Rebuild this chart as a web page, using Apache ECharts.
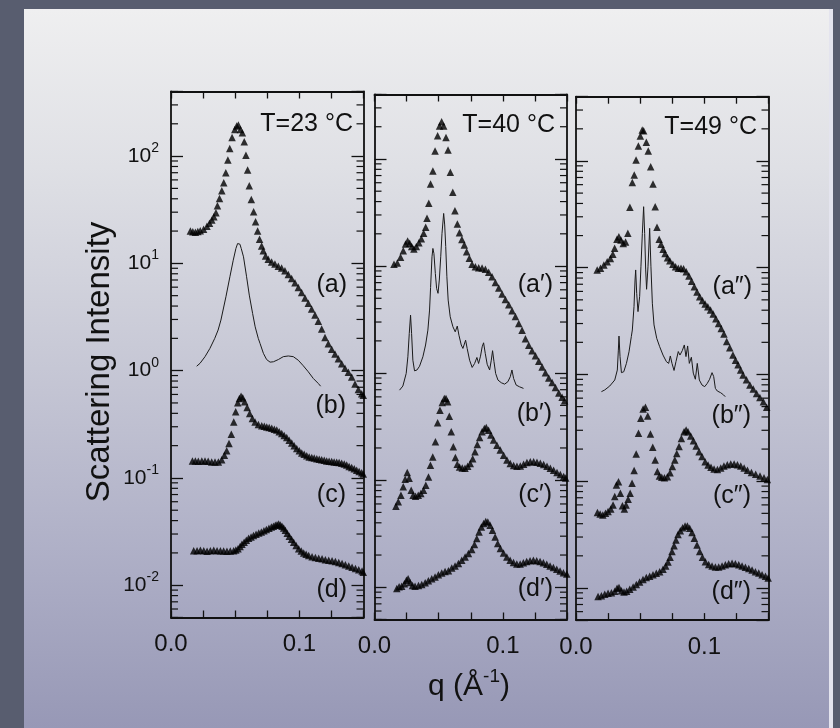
<!DOCTYPE html>
<html><head><meta charset="utf-8">
<script src="https://cdn.jsdelivr.net/npm/echarts@6/dist/echarts.min.js"></script>
<style>
html,body{margin:0;padding:0;width:840px;height:728px;overflow:hidden;background:#585d6f;}
#panel{position:absolute;left:24px;top:9px;width:805px;height:719px;
background:linear-gradient(to bottom,#efeff0 0%,#dfe0e5 22%,#c6c7d5 50%,#afb0c7 75%,#9798b6 100%);
border-right:4px solid #e4e4ee;}
#chart{position:absolute;left:0;top:0;width:840px;height:728px;}
</style></head><body>
<div id="panel"></div><div id="chart"></div>
<script>
// ---------------- data: [q (1/Å), intensity] ----------------
const A23 = [[0.0151,20.0],[0.0170,19.7],[0.0190,19.5],[0.0209,19.8],[0.0228,20.1],[0.0254,20.8],[0.0280,22.2],[0.0300,23.6],[0.0318,25.3],[0.0334,27.2],[0.0350,29.6],[0.0362,34.4],[0.0378,40.3],[0.0396,47.5],[0.0411,56.4],[0.0427,70.0],[0.0443,91.8],[0.0458,118],[0.0476,149],[0.0497,177],[0.0512,191],[0.0525,195],[0.0541,177],[0.0556,165],[0.0571,136],[0.0584,102],[0.0597,74.0],[0.0610,52.8],[0.0626,39.4],[0.0644,30.3],[0.0659,24.4],[0.0675,20.0],[0.0690,16.8],[0.0706,14.5],[0.0719,13.1],[0.0737,11.7],[0.0758,10.9],[0.0784,10.3],[0.0810,9.84],[0.0836,9.42],[0.0862,9.04],[0.0888,8.53],[0.0914,7.89],[0.0940,7.23],[0.0966,6.59],[0.0992,5.96],[0.1018,5.35],[0.1044,4.76],[0.1070,4.24],[0.1096,3.76],[0.1122,3.31],[0.1148,2.88],[0.1174,2.45],[0.1200,2.04],[0.1226,1.78],[0.1252,1.58],[0.1278,1.43],[0.1304,1.29],[0.1330,1.16],[0.1356,1.05],[0.1382,0.966],[0.1408,0.871],[0.1434,0.750],[0.1460,0.668],[0.1486,0.610],[0.1498,0.589]];
const B23 = [[0.0200,1.10],[0.0226,1.17],[0.0265,1.35],[0.0303,1.61],[0.0341,2.00],[0.0367,2.39],[0.0389,2.96],[0.0428,4.88],[0.0459,7.50],[0.0485,10.7],[0.0506,13.8],[0.0519,15.3],[0.0526,15.8],[0.0537,15.1],[0.0547,13.8],[0.0565,11.5],[0.0589,7.50],[0.0610,5.06],[0.0636,3.41],[0.0656,2.56],[0.0680,2.00],[0.0694,1.79],[0.0720,1.45],[0.0745,1.27],[0.0772,1.20],[0.0798,1.21],[0.0837,1.27],[0.0875,1.35],[0.0914,1.37],[0.0953,1.35],[0.0992,1.25],[0.1031,1.11],[0.1070,0.975],[0.1109,0.845],[0.1148,0.759],[0.1166,0.716]];
const C23 = [[0.0167,0.144],[0.0190,0.144],[0.0213,0.143],[0.0240,0.144],[0.0265,0.144],[0.0290,0.143],[0.0317,0.141],[0.0343,0.141],[0.0369,0.141],[0.0395,0.148],[0.0416,0.163],[0.0434,0.179],[0.0452,0.209],[0.0470,0.255],[0.0489,0.333],[0.0504,0.413],[0.0520,0.501],[0.0533,0.550],[0.0546,0.578],[0.0559,0.558],[0.0574,0.512],[0.0593,0.454],[0.0613,0.399],[0.0634,0.358],[0.0655,0.333],[0.0681,0.315],[0.0707,0.306],[0.0727,0.303],[0.0746,0.299],[0.0765,0.295],[0.0785,0.291],[0.0805,0.285],[0.0824,0.279],[0.0843,0.269],[0.0863,0.259],[0.0882,0.249],[0.0902,0.238],[0.0921,0.225],[0.0941,0.212],[0.0960,0.200],[0.0980,0.188],[0.1000,0.179],[0.1019,0.171],[0.1038,0.166],[0.1058,0.161],[0.1077,0.157],[0.1097,0.155],[0.1116,0.153],[0.1136,0.151],[0.1155,0.149],[0.1174,0.148],[0.1194,0.146],[0.1213,0.144],[0.1232,0.143],[0.1252,0.142],[0.1271,0.141],[0.1291,0.140],[0.1310,0.139],[0.1330,0.137],[0.1350,0.135],[0.1369,0.132],[0.1388,0.128],[0.1408,0.125],[0.1428,0.122],[0.1447,0.118],[0.1466,0.115],[0.1486,0.112],[0.1498,0.109]];
const D23 = [[0.0177,0.0209],[0.0203,0.0210],[0.0229,0.0212],[0.0255,0.0209],[0.0281,0.0207],[0.0307,0.0210],[0.0333,0.0212],[0.0359,0.0210],[0.0385,0.0209],[0.0410,0.0208],[0.0436,0.0207],[0.0462,0.0208],[0.0488,0.0209],[0.0505,0.0213],[0.0522,0.0219],[0.0538,0.0229],[0.0553,0.0241],[0.0570,0.0252],[0.0587,0.0263],[0.0605,0.0274],[0.0624,0.0282],[0.0643,0.0291],[0.0663,0.0299],[0.0684,0.0307],[0.0704,0.0314],[0.0724,0.0322],[0.0743,0.0330],[0.0763,0.0339],[0.0782,0.0348],[0.0798,0.0355],[0.0813,0.0362],[0.0826,0.0367],[0.0839,0.0371],[0.0852,0.0365],[0.0865,0.0355],[0.0878,0.0341],[0.0891,0.0326],[0.0906,0.0305],[0.0922,0.0286],[0.0939,0.0268],[0.0956,0.0252],[0.0975,0.0234],[0.0995,0.0219],[0.1015,0.0208],[0.1034,0.0200],[0.1053,0.0194],[0.1073,0.0189],[0.1099,0.0184],[0.1125,0.0181],[0.1151,0.0178],[0.1177,0.0176],[0.1203,0.0173],[0.1229,0.0171],[0.1255,0.0169],[0.1281,0.0166],[0.1307,0.0163],[0.1333,0.0159],[0.1359,0.0155],[0.1385,0.0151],[0.1411,0.0147],[0.1437,0.0143],[0.1463,0.0139],[0.1489,0.0136],[0.1498,0.0132]];

const A40 = [[0.0152,10.4],[0.0178,10.7],[0.0203,12.1],[0.0224,13.9],[0.0242,16.1],[0.0258,17.1],[0.0274,16.3],[0.0290,15.2],[0.0307,14.4],[0.0326,15.2],[0.0346,16.5],[0.0365,18.0],[0.0383,20.2],[0.0399,23.0],[0.0409,27.9],[0.0423,38.5],[0.0437,58.3],[0.0455,77.3],[0.0472,119],[0.0492,165],[0.0507,203],[0.0523,223],[0.0539,203],[0.0557,159],[0.0573,121],[0.0591,75.0],[0.0610,48.8],[0.0627,32.9],[0.0646,24.7],[0.0662,20.5],[0.0681,17.7],[0.0700,15.7],[0.0718,13.6],[0.0739,11.8],[0.0760,10.4],[0.0786,9.86],[0.0812,9.64],[0.0838,9.57],[0.0864,9.31],[0.0890,8.73],[0.0916,7.94],[0.0942,7.03],[0.0968,6.22],[0.0994,5.47],[0.1020,4.88],[0.1046,4.36],[0.1072,3.83],[0.1098,3.37],[0.1124,2.91],[0.1150,2.51],[0.1176,2.09],[0.1202,1.82],[0.1228,1.62],[0.1254,1.45],[0.1280,1.29],[0.1306,1.14],[0.1332,1.01],[0.1358,0.902],[0.1384,0.818],[0.1410,0.733],[0.1436,0.653],[0.1462,0.596],[0.1481,0.551]];
const B40 = [[0.0195,0.693],[0.0221,0.757],[0.0247,0.993],[0.0260,1.42],[0.0271,2.35],[0.0281,3.48],[0.0289,2.35],[0.0299,1.32],[0.0312,1.05],[0.0331,1.07],[0.0351,1.16],[0.0377,1.42],[0.0398,1.83],[0.0416,2.52],[0.0429,3.88],[0.0437,6.31],[0.0448,12.2],[0.0455,14.6],[0.0463,13.1],[0.0474,8.53],[0.0484,6.18],[0.0495,5.56],[0.0505,7.40],[0.0516,12.2],[0.0526,20.2],[0.0539,31.0],[0.0547,24.2],[0.0555,15.2],[0.0564,7.94],[0.0574,4.81],[0.0590,3.36],[0.0611,2.71],[0.0629,2.43],[0.0645,2.75],[0.0658,2.26],[0.0676,1.83],[0.0689,1.70],[0.0710,2.03],[0.0722,1.70],[0.0741,1.32],[0.0761,1.13],[0.0780,1.23],[0.0798,1.40],[0.0811,1.23],[0.0826,1.44],[0.0839,1.76],[0.0850,1.92],[0.0863,1.53],[0.0878,1.21],[0.0897,1.07],[0.0910,1.32],[0.0920,1.62],[0.0931,1.28],[0.0944,0.993],[0.0962,0.861],[0.0988,0.813],[0.1014,0.789],[0.1039,0.830],[0.1058,0.925],[0.1071,1.07],[0.1084,0.891],[0.1104,0.773],[0.1130,0.745],[0.1161,0.720]];
const C40 = [[0.0167,0.0571],[0.0185,0.0628],[0.0206,0.0724],[0.0224,0.0867],[0.0239,0.102],[0.0255,0.118],[0.0270,0.104],[0.0286,0.0807],[0.0301,0.0724],[0.0320,0.0708],[0.0341,0.0724],[0.0361,0.0750],[0.0382,0.0807],[0.0400,0.0897],[0.0421,0.107],[0.0436,0.138],[0.0454,0.165],[0.0475,0.228],[0.0492,0.344],[0.0510,0.451],[0.0528,0.532],[0.0544,0.579],[0.0557,0.579],[0.0570,0.540],[0.0583,0.396],[0.0598,0.283],[0.0614,0.205],[0.0630,0.163],[0.0645,0.141],[0.0663,0.133],[0.0684,0.130],[0.0705,0.129],[0.0726,0.135],[0.0746,0.143],[0.0765,0.159],[0.0783,0.184],[0.0801,0.215],[0.0819,0.251],[0.0838,0.283],[0.0856,0.304],[0.0871,0.310],[0.0889,0.293],[0.0907,0.264],[0.0928,0.237],[0.0954,0.212],[0.0980,0.191],[0.1006,0.171],[0.1032,0.154],[0.1058,0.143],[0.1084,0.137],[0.1110,0.135],[0.1136,0.136],[0.1162,0.141],[0.1188,0.146],[0.1214,0.149],[0.1240,0.149],[0.1266,0.147],[0.1292,0.144],[0.1318,0.140],[0.1344,0.135],[0.1370,0.129],[0.1396,0.124],[0.1422,0.118],[0.1448,0.113],[0.1474,0.108],[0.1490,0.105]];
const D40 = [[0.0174,0.00973],[0.0192,0.0101],[0.0212,0.0102],[0.0233,0.0108],[0.0249,0.0116],[0.0262,0.0120],[0.0277,0.0111],[0.0296,0.0104],[0.0316,0.0102],[0.0343,0.0104],[0.0368,0.0106],[0.0395,0.0110],[0.0420,0.0115],[0.0446,0.0120],[0.0472,0.0125],[0.0498,0.0131],[0.0524,0.0136],[0.0550,0.0140],[0.0576,0.0143],[0.0602,0.0151],[0.0628,0.0158],[0.0654,0.0167],[0.0680,0.0179],[0.0706,0.0192],[0.0732,0.0207],[0.0758,0.0225],[0.0779,0.0251],[0.0797,0.0285],[0.0815,0.0329],[0.0833,0.0366],[0.0851,0.0394],[0.0867,0.0411],[0.0883,0.0408],[0.0901,0.0379],[0.0919,0.0341],[0.0940,0.0295],[0.0960,0.0256],[0.0981,0.0230],[0.1005,0.0209],[0.1031,0.0192],[0.1057,0.0179],[0.1083,0.0170],[0.1109,0.0165],[0.1135,0.0165],[0.1160,0.0169],[0.1186,0.0174],[0.1212,0.0177],[0.1238,0.0179],[0.1264,0.0177],[0.1290,0.0174],[0.1316,0.0169],[0.1342,0.0164],[0.1368,0.0158],[0.1394,0.0153],[0.1420,0.0147],[0.1446,0.0142],[0.1472,0.0137],[0.1498,0.0133]];

const A49 = [[0.0165,9.53],[0.0191,9.89],[0.0217,10.6],[0.0243,11.4],[0.0268,12.2],[0.0287,13.4],[0.0301,15.2],[0.0319,18.5],[0.0334,19.5],[0.0350,18.2],[0.0368,16.9],[0.0386,17.4],[0.0404,21.0],[0.0420,36.8],[0.0439,62.7],[0.0454,74.0],[0.0468,102],[0.0486,138],[0.0501,171],[0.0516,195],[0.0527,192],[0.0548,150],[0.0563,124],[0.0582,88.5],[0.0600,61.0],[0.0617,37.3],[0.0631,23.9],[0.0648,18.5],[0.0663,16.6],[0.0679,14.9],[0.0694,13.6],[0.0713,12.4],[0.0731,11.6],[0.0755,10.8],[0.0776,10.2],[0.0797,9.89],[0.0818,9.89],[0.0838,9.79],[0.0859,9.18],[0.0880,8.38],[0.0901,7.46],[0.0922,6.65],[0.0943,5.93],[0.0964,5.36],[0.0985,4.92],[0.1006,4.57],[0.1027,4.32],[0.1048,4.02],[0.1069,3.69],[0.1090,3.33],[0.1111,3.01],[0.1132,2.69],[0.1153,2.40],[0.1174,2.04],[0.1198,1.78],[0.1223,1.52],[0.1243,1.36],[0.1263,1.23],[0.1283,1.10],[0.1302,0.991],[0.1328,0.891],[0.1355,0.798],[0.1381,0.729],[0.1407,0.665],[0.1433,0.610],[0.1460,0.556],[0.1486,0.492]];
const B49 = [[0.0198,0.690],[0.0224,0.716],[0.0263,0.780],[0.0302,0.887],[0.0322,1.10],[0.0330,1.69],[0.0335,2.29],[0.0343,1.47],[0.0354,1.04],[0.0372,1.06],[0.0393,1.27],[0.0413,1.63],[0.0431,2.26],[0.0439,2.61],[0.0452,4.32],[0.0460,7.67],[0.0465,9.53],[0.0473,5.75],[0.0483,3.88],[0.0496,5.36],[0.0506,10.2],[0.0517,21.0],[0.0527,37.3],[0.0535,21.0],[0.0543,9.53],[0.0550,6.28],[0.0561,10.2],[0.0574,23.4],[0.0584,10.2],[0.0595,4.65],[0.0608,2.91],[0.0629,2.18],[0.0652,1.82],[0.0678,1.52],[0.0704,1.32],[0.0722,1.27],[0.0735,1.49],[0.0748,1.27],[0.0764,1.09],[0.0779,1.32],[0.0797,1.64],[0.0810,1.52],[0.0828,1.67],[0.0844,1.89],[0.0857,1.47],[0.0870,1.85],[0.0883,1.27],[0.0899,1.45],[0.0914,1.03],[0.0930,0.902],[0.0945,1.27],[0.0961,0.887],[0.0982,0.796],[0.1003,0.769],[0.1023,0.826],[0.1041,0.902],[0.1060,1.04],[0.1073,0.955],[0.1086,0.741],[0.1101,0.700],[0.1114,0.726],[0.1127,0.675],[0.1140,0.690],[0.1150,0.643],[0.1163,0.619]];
const C49 = [[0.0167,0.0508],[0.0188,0.0493],[0.0209,0.0483],[0.0230,0.0500],[0.0250,0.0519],[0.0271,0.0550],[0.0289,0.0600],[0.0302,0.0718],[0.0315,0.0923],[0.0331,0.0991],[0.0346,0.0771],[0.0362,0.0590],[0.0377,0.0550],[0.0390,0.0600],[0.0406,0.0678],[0.0422,0.0771],[0.0437,0.0957],[0.0453,0.126],[0.0469,0.180],[0.0487,0.281],[0.0505,0.388],[0.0523,0.475],[0.0541,0.493],[0.0559,0.408],[0.0580,0.277],[0.0598,0.208],[0.0617,0.158],[0.0634,0.123],[0.0650,0.112],[0.0668,0.109],[0.0689,0.108],[0.0712,0.110],[0.0733,0.120],[0.0751,0.137],[0.0770,0.158],[0.0785,0.182],[0.0803,0.211],[0.0821,0.251],[0.0842,0.291],[0.0858,0.302],[0.0873,0.291],[0.0894,0.265],[0.0915,0.240],[0.0936,0.214],[0.0959,0.189],[0.0982,0.170],[0.1006,0.152],[0.1029,0.142],[0.1052,0.135],[0.1076,0.130],[0.1102,0.129],[0.1128,0.133],[0.1153,0.139],[0.1179,0.143],[0.1206,0.145],[0.1232,0.145],[0.1258,0.143],[0.1284,0.139],[0.1310,0.133],[0.1336,0.127],[0.1367,0.121],[0.1400,0.116],[0.1434,0.112],[0.1465,0.108],[0.1491,0.104]];
const D49 = [[0.0172,0.00830],[0.0198,0.00847],[0.0224,0.00873],[0.0250,0.00891],[0.0276,0.00904],[0.0302,0.00931],[0.0320,0.00993],[0.0335,0.0101],[0.0354,0.00944],[0.0374,0.00918],[0.0395,0.00931],[0.0419,0.00973],[0.0445,0.0102],[0.0470,0.0108],[0.0496,0.0114],[0.0522,0.0120],[0.0548,0.0125],[0.0574,0.0129],[0.0600,0.0133],[0.0626,0.0137],[0.0652,0.0142],[0.0678,0.0150],[0.0699,0.0161],[0.0717,0.0175],[0.0733,0.0194],[0.0748,0.0219],[0.0764,0.0249],[0.0779,0.0281],[0.0795,0.0316],[0.0813,0.0344],[0.0831,0.0367],[0.0850,0.0381],[0.0868,0.0381],[0.0886,0.0362],[0.0904,0.0330],[0.0922,0.0292],[0.0943,0.0252],[0.0964,0.0219],[0.0985,0.0194],[0.1008,0.0176],[0.1034,0.0166],[0.1060,0.0161],[0.1086,0.0157],[0.1112,0.0157],[0.1138,0.0161],[0.1164,0.0165],[0.1190,0.0169],[0.1216,0.0170],[0.1242,0.0169],[0.1268,0.0165],[0.1294,0.0161],[0.1320,0.0156],[0.1346,0.0152],[0.1372,0.0147],[0.1398,0.0142],[0.1424,0.0138],[0.1450,0.0133],[0.1476,0.0129],[0.1497,0.0124]];

// ---------------- axes / ticks ----------------
const X_MIN = 0, X_MAX = 0.15, X_STEP = 0.025;
const X_LABELED = [0, 0.1];
const Y_MIN = 0.005, Y_MAX = 400;
const Y_LABELED_EXP = [-2, -1, 0, 1, 2];
const MINOR_MULT = [2, 3, 4, 5, 6, 7, 8, 9];
const MINOR_DECADES = [0.001, 0.01, 0.1, 1, 10, 100];
const MINOR_TICKS = [];
MINOR_DECADES.forEach(d => MINOR_MULT.forEach(m => { const v = +(m * d).toPrecision(3); if (v >= Y_MIN && v <= Y_MAX) MINOR_TICKS.push(v); }));

const TEMPS = ['T=23 °C', 'T=40 °C', 'T=49 °C'];
const CURVE_LABELS = [['(a)','(b)','(c)','(d)'], ['(a\u2032)','(b\u2032)','(c\u2032)','(d\u2032)'], ['(a\u2033)','(b\u2033)','(c\u2033)','(d\u2033)']];
const PANELS = [
  {tri: [A23, C23, D23], line: B23},
  {tri: [A40, C40, D40], line: B40},
  {tri: [A49, C49, D49], line: B49}
];

// ---------------- layout (pixels) ----------------
const GRIDS = [
  {left: 171, top: 91.5, width: 192.5, height: 526},
  {left: 374.5, top: 94.5, width: 192.5, height: 525},
  {left: 576, top: 96.7, width: 192.5, height: 523.4}
];
const TEMP_POS = [[353, 124.5], [555, 125.5], [757, 127]];
const LABEL_POS = [
  [[347, 285], [346, 406.5], [346, 495], [347, 590]],
  [[553, 285.5], [552, 414], [552, 495], [553, 589]],
  [[752, 286.7], [751, 416], [751, 496], [751, 592]]
];
const FONT = '"Liberation Sans", Arial, Helvetica, sans-serif';
const INK = '#111';
const LINE_W = 1.8;
const MINOR_LEN = 7;

const chart = echarts.init(document.getElementById('chart'), null, {renderer: 'canvas'});

function xLabel(v) {
  for (const t of X_LABELED) if (Math.abs(v - t) < 1e-9) return t.toFixed(1);
  return '';
}
function yLabel(v) {
  const l = Math.log10(v), e = Math.round(l);
  if (Math.abs(l - e) > 1e-6 || Y_LABELED_EXP.indexOf(e) < 0) return '';
  return '{b|10}{s|' + e + '}';
}

const xAxis = [], yAxis = [], series = [], grid = [];
GRIDS.forEach((g, gi) => {
  grid.push(Object.assign({containLabel: false}, g));
  ['bottom', 'top'].forEach(pos => {
    xAxis.push({
      gridIndex: gi, type: 'value', position: pos, min: X_MIN, max: X_MAX, interval: X_STEP,
      axisLine: {show: true, onZero: false, lineStyle: {color: INK, width: LINE_W}},
      axisTick: {show: true, inside: true, length: 7, lineStyle: {color: INK, width: 1.3}},
      axisLabel: {show: pos === 'bottom', formatter: xLabel, margin: 15, fontSize: 24, fontFamily: FONT, color: INK,
                  showMinLabel: true, showMaxLabel: true, hideOverlap: false},
      splitLine: {show: false}
    });
  });
  ['left', 'right'].forEach(pos => {
    yAxis.push({
      gridIndex: gi, type: 'log', logBase: 10, position: pos, min: Y_MIN, max: Y_MAX,
      axisLine: {show: true, onZero: false, lineStyle: {color: INK, width: LINE_W}},
      axisTick: {show: true, inside: true, length: 12, lineStyle: {color: INK, width: 1.3}},
      axisLabel: {show: gi === 0 && pos === 'left', formatter: yLabel, margin: 12,
        rich: {
          b: {fontSize: 21, fontFamily: FONT, color: INK, lineHeight: 30},
          s: {fontSize: 14, fontFamily: FONT, color: INK, lineHeight: 14, verticalAlign: 'top'}
        }},
      splitLine: {show: false}
    });
  });
  const xi = gi * 2, yi = gi * 2;
  PANELS[gi].tri.forEach(d => series.push({
    type: 'scatter', xAxisIndex: xi, yAxisIndex: yi, data: d, symbol: 'triangle', symbolSize: 7.5,
    itemStyle: {color: '#000'}, silent: true, clip: false
  }));
  series.push({
    type: 'line', xAxisIndex: xi, yAxisIndex: yi, data: PANELS[gi].line, symbol: 'none', showSymbol: false,
    lineStyle: {color: '#1a1a1a', width: 1}, silent: true
  });
  series.push({
    type: 'custom', xAxisIndex: xi, yAxisIndex: yi, silent: true,
    data: MINOR_TICKS.map(v => [(X_MIN + X_MAX) / 2, v]),
    renderItem: (params, api) => {
      const v = api.value(1);
      const pL = api.coord([X_MIN, v]);
      const pR = api.coord([X_MAX, v]);
      return {type: 'group', children: [
        {type: 'line', shape: {x1: pL[0], y1: pL[1], x2: pL[0] + MINOR_LEN, y2: pL[1]}, style: {stroke: INK, lineWidth: 1.2}},
        {type: 'line', shape: {x1: pR[0], y1: pR[1], x2: pR[0] - MINOR_LEN, y2: pR[1]}, style: {stroke: INK, lineWidth: 1.2}}
      ]};
    }
  });
});

const graphic = [];
TEMPS.forEach((t, i) => graphic.push({type: 'text', x: TEMP_POS[i][0], y: TEMP_POS[i][1], silent: true,
  style: {text: t, fontSize: 25, fontFamily: FONT, fill: INK, align: 'right', verticalAlign: 'middle'}}));
CURVE_LABELS.forEach((arr, i) => arr.forEach((t, j) => graphic.push({type: 'text', x: LABEL_POS[i][j][0], y: LABEL_POS[i][j][1], silent: true,
  style: {text: t, fontSize: 25, fontFamily: FONT, fill: INK, align: 'right', verticalAlign: 'middle'}})));
graphic.push({type: 'text', x: 100, y: 362, rotation: Math.PI / 2, silent: true,
  style: {text: 'Scattering Intensity', fontSize: 33, fontFamily: FONT, fill: INK, align: 'center', verticalAlign: 'middle'}});
graphic.push({type: 'text', x: 469, y: 687, silent: true,
  style: {text: '{n|q (Å}{s|-1}{n|)}', align: 'center', verticalAlign: 'middle',
    rich: {
      n: {fontSize: 30, fontFamily: FONT, fill: INK, lineHeight: 40},
      s: {fontSize: 19, fontFamily: FONT, fill: INK, lineHeight: 19, verticalAlign: 'top'}
    }}});

chart.setOption({
  backgroundColor: 'transparent',
  animation: false,
  grid, xAxis, yAxis, series, graphic
});
</script></body></html>
